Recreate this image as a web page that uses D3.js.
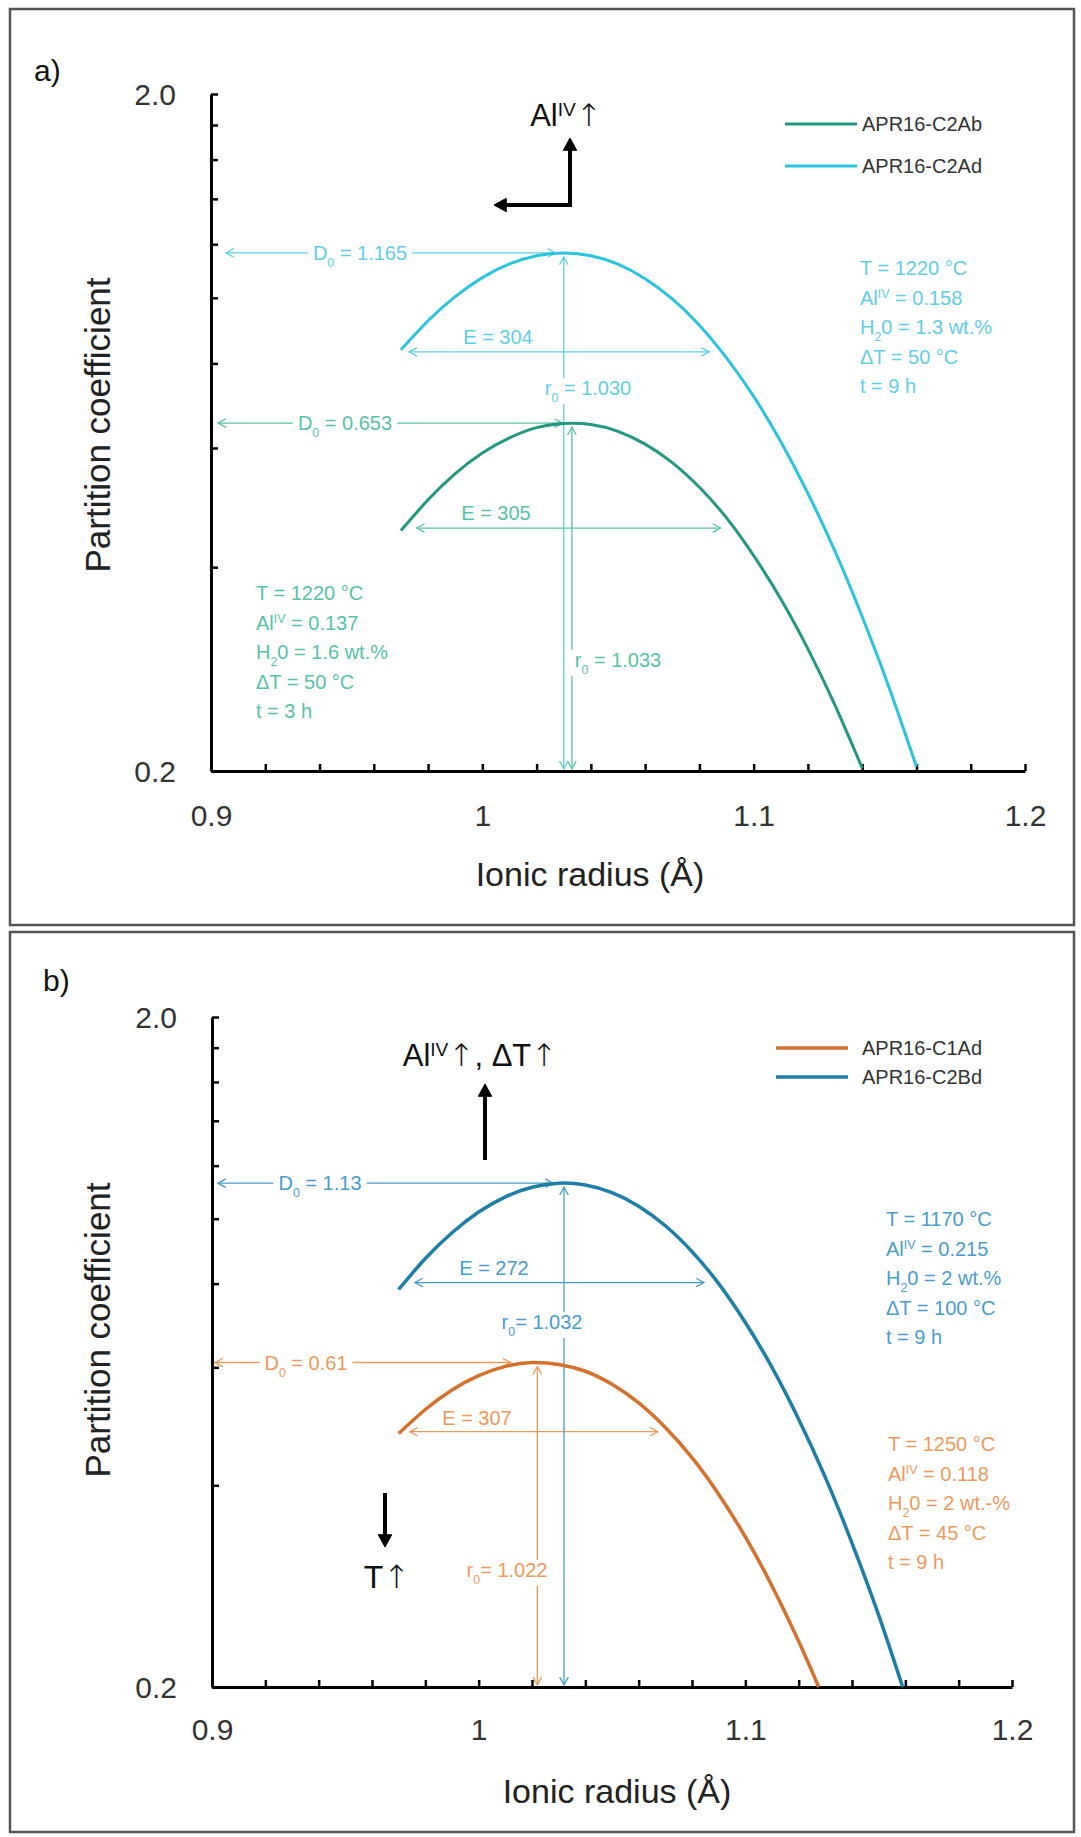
<!DOCTYPE html>
<html>
<head>
<meta charset="utf-8">
<script src="https://cdn.jsdelivr.net/npm/d3@7"></script>
<style>
  body { margin: 0; background: #fff; }
  svg { display: block; font-family: "Liberation Sans", Arial, sans-serif; }
</style>
</head>
<body>
<div id="chart"></div>
<script>
// partition coefficients
var c2abRadius = [0.97, 0.98, 0.99, 1.00, 1.01, 1.02, 1.03, 1.04, 1.05, 1.06, 1.07, 1.08, 1.09, 1.10, 1.11, 1.12, 1.13, 1.14];
var c2abD = [0.453, 0.503, 0.550, 0.590, 0.621, 0.643, 0.652, 0.650, 0.635, 0.608, 0.571, 0.525, 0.473, 0.416, 0.359, 0.303, 0.250, 0.202];

var c2adRadius = [0.97, 0.98, 0.99, 1.00, 1.01, 1.02, 1.03, 1.04, 1.05, 1.06, 1.07, 1.08, 1.09, 1.10, 1.11, 1.12, 1.13, 1.14, 1.15, 1.16];
var c2adD = [0.838, 0.925, 1.004, 1.071, 1.122, 1.154, 1.165, 1.154, 1.121, 1.067, 0.996, 0.911, 0.815, 0.715, 0.613, 0.514, 0.422, 0.338, 0.265, 0.203];

var c1adRadius = [0.97, 0.98, 0.99, 1.00, 1.01, 1.02, 1.03, 1.04, 1.05, 1.06, 1.07, 1.08, 1.09, 1.10, 1.11, 1.12, 1.1275];
var c1adD = [0.478, 0.519, 0.555, 0.583, 0.602, 0.610, 0.606, 0.592, 0.566, 0.531, 0.488, 0.440, 0.388, 0.335, 0.283, 0.234, 0.200];

var c2bdRadius = [0.97, 0.98, 0.99, 1.00, 1.01, 1.02, 1.03, 1.04, 1.05, 1.06, 1.07, 1.08, 1.09, 1.10, 1.11, 1.12, 1.13, 1.14, 1.15, 1.159];
var c2bdD = [0.784, 0.872, 0.953, 1.023, 1.078, 1.114, 1.130, 1.123, 1.094, 1.044, 0.976, 0.893, 0.800, 0.700, 0.600, 0.502, 0.411, 0.328, 0.256, 0.200];

// fit parameters shown on the plot
var d0A = [0.653, 1.165];
var r0A = [1.033, 1.030];
var eA = [305, 304];
var d0B = [0.61, 1.13];
var r0B = [1.022, 1.032];
var eB = [307, 272];

var legendA = ["APR16-C2Ab", "APR16-C2Ad"];
var legendB = ["APR16-C1Ad", "APR16-C2Bd"];

var condC2Ab = ["T = 1220 °C", "Al^{IV} = 0.137", "H_{2}0 = 1.6 wt.%", "ΔT = 50 °C", "t = 3 h"];
var condC2Ad = ["T = 1220 °C", "Al^{IV} = 0.158", "H_{2}0 = 1.3 wt.%", "ΔT = 50 °C", "t = 9 h"];
var condC1Ad = ["T = 1250 °C", "Al^{IV} = 0.118", "H_{2}0 = 2 wt.-%", "ΔT = 45 °C", "t = 9 h"];
var condC2Bd = ["T = 1170 °C", "Al^{IV} = 0.215", "H_{2}0 = 2 wt.%", "ΔT = 100 °C", "t = 9 h"];

var xTicks = [0.9, 0.92, 0.94, 0.96, 0.98, 1.0, 1.02, 1.04, 1.06, 1.08, 1.1, 1.12, 1.14, 1.16, 1.18, 1.2];
var xLabels = [0.9, 1, 1.1, 1.2];
var yTicks = [0.2, 0.4, 0.6, 0.8, 1.0, 1.2, 1.4, 1.6, 1.8, 2.0];
var yLabels = [0.2, 2.0];

var width = 1081;
var height = 1837;

var svg = d3.select("#chart").append("svg")
  .attr("width", width)
  .attr("height", height);

svg.append("rect").attr("width", width).attr("height", height).attr("fill", "#fff");

// writes "Al^{IV}" / "H_{2}0" style strings as tspans, arrows in a font with a full size glyph
function richText(sel, str) {
  var parts = str.split(/(\^\{[^}]*\}|_\{[^}]*\}|↑)/);
  parts.forEach(function(p) {
    if (p === "") return;
    if (p[0] === "^") {
      sel.append("tspan").text(p.slice(2, -1)).attr("font-size", "62%").attr("baseline-shift", "super");
    } else if (p[0] === "_") {
      sel.append("tspan").text(p.slice(2, -1)).attr("font-size", "62%").attr("baseline-shift", "sub");
    } else if (p === "↑") {
      sel.append("tspan").text(p).attr("font-family", "DejaVu Sans, sans-serif").attr("font-weight", 300);
    } else {
      sel.append("tspan").text(p);
    }
  });
  return sel;
}

function arrowHead(g, x, y, angle, size, color, filled, sw) {
  var a1 = angle + Math.PI - 0.5, a2 = angle + Math.PI + 0.5;
  var p = "M" + (x + size * Math.cos(a1)) + "," + (y + size * Math.sin(a1)) +
    "L" + x + "," + y +
    "L" + (x + size * Math.cos(a2)) + "," + (y + size * Math.sin(a2));
  if (filled) {
    g.append("path").attr("d", p + "Z").attr("fill", color).attr("stroke", color).attr("stroke-width", 1);
  } else {
    g.append("path").attr("d", p).attr("fill", "none").attr("stroke", color).attr("stroke-width", sw);
  }
}

function arrow(g, x1, y1, x2, y2, color, sw, both, filled, size) {
  g.append("line").attr("x1", x1).attr("y1", y1).attr("x2", x2).attr("y2", y2)
    .attr("stroke", color).attr("stroke-width", sw);
  var ang = Math.atan2(y2 - y1, x2 - x1);
  arrowHead(g, x2, y2, ang, size, color, filled, sw);
  if (both) arrowHead(g, x1, y1, ang + Math.PI, size, color, filled, sw);
}

function label(g, x, y, str, color, size) {
  var t = g.append("text").attr("x", x).attr("y", y).attr("dy", "0.35em")
    .attr("text-anchor", "middle").attr("font-size", size).attr("fill", color);
  richText(t, str);
  var b = t.node().getBBox();
  g.insert("rect", function() { return t.node(); })
    .attr("x", b.x - 5).attr("y", b.y + 1).attr("width", b.width + 10).attr("height", b.height - 2)
    .attr("fill", "#fff");
  return t;
}

var panels = [
  {
    tag: "a)", tagX: 34, tagY: 70,
    frame: [10, 9, 1064, 916],
    left: 211, right: 1025, top: 94, bottom: 771,
    yTitleX: 98, yTitleY: 425, xTitleX: 590, xTitleY: 874, xLabelPad: 34,
    stroke: 3,
    series: [
      { radius: c2abRadius, d: c2abD, color: "#23977f", light: "#57c2a8", name: legendA[0], d0: d0A[0], r0: r0A[0], e: eA[0],
        d0Arrow: [0.9026, 1.0295], d0LabelX: 345, r0LabelX: 618, r0LabelY: 660, eArrow: [0.9758, 1.0878, 0.457], eLabelX: 496, eLabelY: 513,
        cond: condC2Ab, condX: 256, condY: 593, eq: " = " },
      { radius: c2adRadius, d: c2adD, color: "#2cc3dc", light: "#62cde3", name: legendA[1], d0: d0A[1], r0: r0A[1], e: eA[1],
        d0Arrow: [0.9055, 1.027], d0LabelX: 360, r0LabelX: 588, r0LabelY: 388, eArrow: [0.973, 1.0836, 0.832], eLabelX: 498, eLabelY: 337,
        cond: condC2Ad, condX: 860, condY: 268, eq: " = " }
    ],
    legendX: 785, legendY: [124, 166]
  },
  {
    tag: "b)", tagX: 43, tagY: 980,
    frame: [10, 932, 1064, 900],
    left: 212, right: 1012, top: 1017, bottom: 1687,
    yTitleX: 98, yTitleY: 1330, xTitleX: 617, xTitleY: 1791, xLabelPad: 32,
    stroke: 3.5,
    series: [
      { radius: c1adRadius, d: c1adD, color: "#d4712c", light: "#ec9a5c", name: legendB[0], d0: d0B[0], r0: r0B[0], e: eB[0],
        d0Arrow: [0.9011, 1.012], d0LabelX: 306, r0LabelX: 507, r0LabelY: 1570, eArrow: [0.9742, 1.0672, 0.481], eLabelX: 477, eLabelY: 1418,
        cond: condC1Ad, condX: 888, condY: 1444, eq: "= " },
      { radius: c2bdRadius, d: c2bdD, color: "#1e7ea6", light: "#4a9ccb", name: legendB[1], d0: d0B[1], r0: r0B[1], e: eB[1],
        d0Arrow: [0.9022, 1.0279], d0LabelX: 320, r0LabelX: 542, r0LabelY: 1322, eArrow: [0.9761, 1.0845, 0.803], eLabelX: 494, eLabelY: 1268,
        cond: condC2Bd, condX: 886, condY: 1219, eq: "= " }
    ],
    legendX: 776, legendY: [1048, 1077]
  }
];

panels.forEach(function(p) {
  var g = svg.append("g");

  g.append("rect")
    .attr("x", p.frame[0]).attr("y", p.frame[1]).attr("width", p.frame[2]).attr("height", p.frame[3])
    .attr("fill", "none").attr("stroke", "#555").attr("stroke-width", 2.5);

  g.append("text").attr("x", p.tagX).attr("y", p.tagY).attr("dy", "0.35em")
    .attr("font-size", 30).attr("fill", "#111").text(p.tag);

  var x = d3.scaleLinear().domain([0.9, 1.2]).range([p.left, p.right]);
  var y = d3.scaleLog().domain([0.2, 2.0]).range([p.bottom, p.top]);

  // annotations go under the curves
  var ann = g.append("g");
  p.series.forEach(function(s) {
    var c = s.light;
    // D0 arrow from axis to peak
    arrow(ann, x(s.d0Arrow[0]), y(s.d0), x(s.d0Arrow[1]), y(s.d0), c, 1.3, true, false, 9);
    label(ann, s.d0LabelX, y(s.d0), "D_{0} = " + s.d0, c, 20);
    // r0 arrow from peak down to axis
    arrow(ann, x(s.r0), y(s.d0) + 4, x(s.r0), p.bottom - 2, c, 1.3, true, false, 9);
    label(ann, s.r0LabelX, s.r0LabelY, "r_{0}" + s.eq + d3.format(".3f")(s.r0), c, 20);
    // E arrow across the curve
    arrow(ann, x(s.eArrow[0]), y(s.eArrow[2]), x(s.eArrow[1]), y(s.eArrow[2]), c, 1.3, true, false, 9);
    ann.append("text").attr("x", s.eLabelX).attr("y", s.eLabelY).attr("dy", "0.35em")
      .attr("text-anchor", "middle").attr("font-size", 20).attr("fill", c).text("E = " + s.e);

    // experimental conditions
    s.cond.forEach(function(line, i) {
      var t = ann.append("text").attr("x", s.condX).attr("y", s.condY + i * 29.6).attr("dy", "0.35em")
        .attr("font-size", 20).attr("fill", c);
      richText(t, line);
    });
  });

  // axes
  var yAxis = d3.axisLeft(y).tickValues(yTicks).tickSizeInner(-7).tickSizeOuter(0).tickPadding(35)
    .tickFormat(function(v) { return yLabels.indexOf(v) >= 0 ? d3.format(".1f")(v) : ""; });
  var xAxis = d3.axisBottom(x).tickValues(xTicks).tickSizeInner(-7).tickSizeOuter(0).tickPadding(p.xLabelPad)
    .tickFormat(function(v) {
      var hit = xLabels.filter(function(l) { return Math.abs(l - v) < 1e-6; });
      return hit.length ? String(hit[0]) : "";
    });

  var ya = g.append("g").attr("transform", "translate(" + p.left + ",0)").call(yAxis);
  var xa = g.append("g").attr("transform", "translate(0," + p.bottom + ")").call(xAxis);
  [ya, xa].forEach(function(a) {
    a.select(".domain").attr("stroke", "#000").attr("stroke-width", 3);
    a.selectAll(".tick line").attr("stroke", "#000").attr("stroke-width", 2.5);
    a.selectAll(".tick text").attr("font-size", 30).attr("fill", "#333")
      .attr("font-family", "Liberation Sans, Arial, sans-serif");
  });
  ya.selectAll(".tick text").attr("dy", "0.35em");

  g.append("text")
    .attr("transform", "translate(" + p.yTitleX + "," + p.yTitleY + ") rotate(-90)")
    .attr("text-anchor", "middle").attr("dy", "0.35em").attr("font-size", 35).attr("fill", "#222")
    .text("Partition coefficient");
  g.append("text").attr("x", p.xTitleX).attr("y", p.xTitleY).attr("dy", "0.35em")
    .attr("text-anchor", "middle").attr("font-size", 34).attr("fill", "#222")
    .text("Ionic radius (Å)");

  // curves
  var line = d3.line()
    .x(function(d) { return x(d[0]); })
    .y(function(d) { return y(d[1]); })
    .curve(d3.curveNatural);
  p.series.forEach(function(s) {
    g.append("path")
      .datum(d3.zip(s.radius, s.d))
      .attr("d", line)
      .attr("fill", "none").attr("stroke", s.color).attr("stroke-width", p.stroke);
  });

  // legend
  p.series.forEach(function(s, i) {
    var ly = p.legendY[i];
    g.append("line").attr("x1", p.legendX).attr("x2", p.legendX + 72).attr("y1", ly).attr("y2", ly)
      .attr("stroke", s.color).attr("stroke-width", p.stroke);
    g.append("text").attr("x", 862).attr("y", ly).attr("dy", "0.35em")
      .attr("font-size", 20).attr("fill", "#333").text(s.name);
  });
});

// black trend arrows
var ga = svg.append("g");
richText(ga.append("text").attr("x", 566).attr("y", 115).attr("dy", "0.35em")
  .attr("text-anchor", "middle").attr("font-size", 31).attr("fill", "#111"), "Al^{IV}↑");
ga.append("line").attr("x1", 570).attr("y1", 205).attr("x2", 505).attr("y2", 205)
  .attr("stroke", "#000").attr("stroke-width", 4);
arrowHead(ga, 494, 205, Math.PI, 14, "#000", true, 4);
ga.append("line").attr("x1", 570).attr("y1", 207).attr("x2", 570).attr("y2", 150)
  .attr("stroke", "#000").attr("stroke-width", 4);
arrowHead(ga, 570, 138, -Math.PI / 2, 14, "#000", true, 4);

richText(ga.append("text").attr("x", 480).attr("y", 1055).attr("dy", "0.35em")
  .attr("text-anchor", "middle").attr("font-size", 31).attr("fill", "#111"), "Al^{IV}↑, ΔT↑");
ga.append("line").attr("x1", 485).attr("y1", 1160).attr("x2", 485).attr("y2", 1096)
  .attr("stroke", "#000").attr("stroke-width", 4);
arrowHead(ga, 485, 1084, -Math.PI / 2, 14, "#000", true, 4);

ga.append("line").attr("x1", 385).attr("y1", 1493).attr("x2", 385).attr("y2", 1535)
  .attr("stroke", "#000").attr("stroke-width", 4);
arrowHead(ga, 385, 1547, Math.PI / 2, 14, "#000", true, 4);
richText(ga.append("text").attr("x", 387).attr("y", 1577).attr("dy", "0.35em")
  .attr("text-anchor", "middle").attr("font-size", 32).attr("fill", "#111"), "T↑");
</script>
</body>
</html>
